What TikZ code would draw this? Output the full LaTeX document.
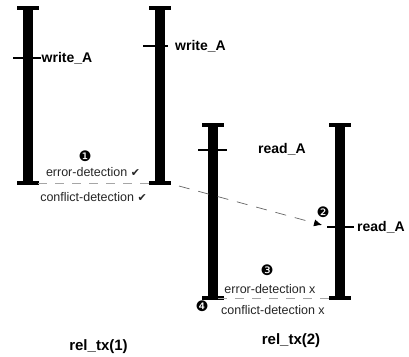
\documentclass[tikz,border=0pt]{standalone}
\usepackage{fontspec}
\setmainfont{Liberation Sans}
\newfontfamily\symf{DejaVu Sans}
\usetikzlibrary{arrows.meta}
\begin{document}
\begin{tikzpicture}[x=1pt,y=-1pt,
  barline/.style={line width=10pt},
  barcap/.style={line width=3.5pt},
  tickline/.style={line width=1.3pt},
  opname/.style={font=\fontsize{14}{16}\selectfont\bfseries, inner sep=0pt},
  txname/.style={font=\fontsize{15}{17}\selectfont\bfseries, inner sep=0pt},
  det/.style={font=\fontsize{12.5}{14}\selectfont, text=black!85, inner sep=0pt},
  num/.style={font=\symf\fontsize{14.5}{15}\selectfont, inner sep=0pt},
  sep/.style={gray!70, dash pattern=on 9pt off 8pt, line width=0.8pt}]
\useasboundingbox (0,0) rectangle (409,356);
% bars
\foreach \n/\x/\t/\b in {1/28/8/183, 2/160/8/183, 3/213/125/298, 4/340/125/298}{
  \coordinate (t\n) at (\x,\t);
  \coordinate (b\n) at (\x,\b);
  \draw[barline] (t\n) -- (b\n);
  \draw[barcap] ([xshift=-11pt]t\n) -- ([xshift=11pt]t\n);
  \draw[barcap] ([xshift=-11pt]b\n) -- ([xshift=11pt]b\n);
}
% ticks
\coordinate (k1a) at (13,58);  \coordinate (k1b) at (41,58);
\coordinate (k2a) at (143,46); \coordinate (k2b) at (168,46);
\coordinate (k3a) at (198,150); \coordinate (k3b) at (227,150);
\coordinate (k4a) at (327,227); \coordinate (k4b) at (354,227);
\draw[tickline] (k1a) -- (k1b);
\draw[tickline] (k2a) -- (k2b);
\draw[tickline] (k3a) -- (k3b);
\draw[tickline] (k4a) -- (k4b);
\node[opname, anchor=west] (w1) at (41.5,58) {write\_A};
\node[opname, anchor=west] (w2) at (175,46) {write\_A};
\node[opname, anchor=west] (r1) at (258,149) {read\_A};
\node[opname, anchor=west] (r2) at (357,227) {read\_A};
% separators
\coordinate (s1a) at (38,183); \coordinate (s1b) at (150,183);
\coordinate (s2a) at (218,298); \coordinate (s2b) at (335,298);
\draw[sep] (s1a) -- (s1b);
\draw[sep] (s2a) -- (s2b);
% arrow
\coordinate (aa) at (179,186);
\coordinate (ab) at (322,225);
\draw[gray!80!black, dash pattern=on 11pt off 9pt, line width=0.7pt,
  -{Latex[black,length=8pt,width=7pt]}] (aa) -- (ab);
% numbers
\node[num] (n1) at (85,156) {❶};
\node[num] (n2) at (323,212) {❷};
\node[num] (n3) at (267,270) {❸};
\node[num] (n4) at (202,306) {❹};
% detection labels
\node[det] (e1) at (93,172) {error-detection {\symf\fontsize{11}{12}\selectfont ✔}};
\node[det] (c1) at (93.5,197) {conflict-detection {\symf\fontsize{11}{12}\selectfont ✔}};
\node[det] (e2) at (270,289) {error-detection x};
\node[det] (c2) at (273,310) {conflict-detection x};
% tx names
\node[txname] (x1) at (98.5,347) {rel\_tx(1)};
\node[txname] (x2) at (291,341) {rel\_tx(2)};
\end{tikzpicture}
\end{document}
